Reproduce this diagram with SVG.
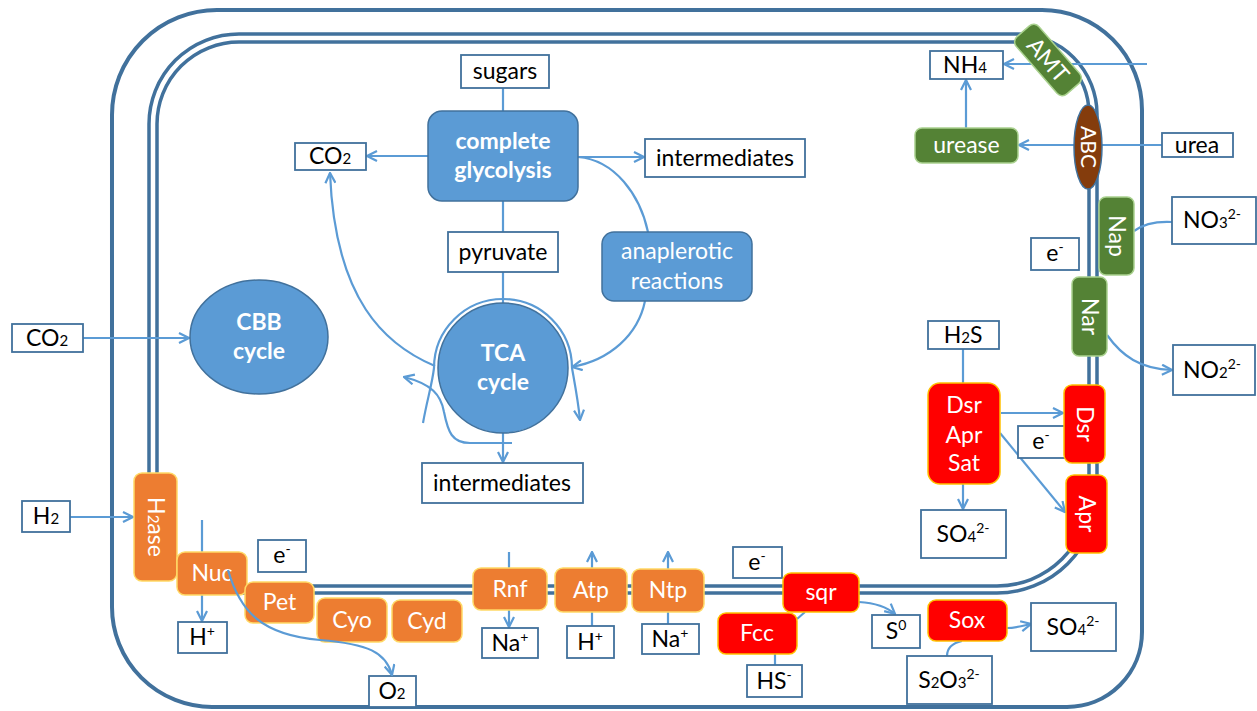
<svg xmlns="http://www.w3.org/2000/svg" width="1257" height="711" viewBox="0 0 1257 711">
<style>
.wall{fill:none;stroke:#41719C;stroke-width:4}
.mem{fill:none;stroke:#41719C;stroke-width:3.5}
.box{fill:#fff;stroke:#41719C;stroke-width:1.8}
.c{fill:none;stroke:#5B9BD5;stroke-width:2.2}
.a{marker-end:url(#ah)}
.or{fill:#ED7D31;stroke:#FFD966;stroke-width:1.5}
.rd{fill:#FF0000;stroke:#FFC000;stroke-width:1.5}
.gr{fill:#548235;stroke:#A9D18E;stroke-width:1.5}
.bl{fill:#5B9BD5;stroke:#41719C;stroke-width:1.5}
.br{fill:#843C0C;stroke:#41719C;stroke-width:1.5}
text{font-family:Lato,"Liberation Sans",sans-serif;font-size:23px;text-anchor:middle;fill:#000}
.w{fill:#fff}
.b{font-weight:bold}
.sb{font-size:15px}
.sp{font-size:14px}
</style>
<defs>
<marker id="ah" viewBox="0 0 12 12" refX="11" refY="6" markerWidth="12" markerHeight="12" markerUnits="userSpaceOnUse" orient="auto">
<path d="M1,1 L11,6 L1,11" fill="none" stroke="#5B9BD5" stroke-width="2.2" stroke-linejoin="miter"/>
</marker>
</defs>
<rect width="1257" height="711" fill="#fff"/>
<g id="cell">
<path class="wall" d="M217,10 H1042 A100,100 0 0 1 1142,110 V632 A75,75 0 0 1 1067,707 H212 A100,100 0 0 1 112,607 V115 A105,105 0 0 1 217,10 Z"/>
<path class="mem" d="M239,34 H1017 A80,80 0 0 1 1097,114 V493 A100,100 0 0 1 997,593 H239 A90,90 0 0 1 149,503 V124 A90,90 0 0 1 239,34 Z"/>
<path class="mem" d="M239,42 H1017 A72,72 0 0 1 1089,114 V494 A92,92 0 0 1 997,586 H239 A82,82 0 0 1 157,504 V124 A82,82 0 0 1 239,42 Z"/>
</g>
<g id="connectors">
<path class="c a" d="M1147,64 H1004"/>
<path class="c a" d="M966,128 V80"/>
<path class="c a" d="M1162,145 H1019"/>
<path class="c" d="M1172,222 C1152,221 1142,225 1134,231"/>
<path class="c a" d="M1107,335 C1122,356 1140,369 1172,370"/>
<path class="c" d="M963,349 V383"/>
<path class="c a" d="M1001,413 H1063"/>
<path class="c a" d="M1000,433 L1065,512"/>
<path class="c a" d="M963,484 V509"/>
<path class="c a" d="M83,338 H189"/>
<path class="c a" d="M70,517 H133"/>
<path class="c a" d="M202,520 V621"/>
<path class="c a" d="M509,552 V627"/>
<path class="c a" d="M592,626 V552"/>
<path class="c a" d="M668,624 V552"/>
<path class="c" d="M797,619 L805,612"/>
<path class="c" d="M775,665 V654"/>
<path class="c a" d="M859,602 C875,603 887,607 895,614"/>
<path class="c a" d="M1007,628 C1015,628 1022,626 1031,624"/>
<path class="c" d="M947,656 C947,648 953,643 962,641"/>
<path class="c" d="M503,88 V111"/>
<path class="c a" d="M428,156 H367"/>
<path class="c a" d="M578,157 H644"/>
<path class="c" d="M578,157 C615,160 640,195 648,232"/>
<path class="c a" d="M645,301 C638,335 610,360 572,367"/>
<path class="c" d="M503,201 V232"/>
<path class="c" d="M503,272 V303"/>
<path class="c a" d="M435,366 C385,345 335,300 330,173"/>
<path class="c a" d="M423,423 C427,400 432,385 434,368 A69,69 0 0 1 572,368 C575,385 578,400 580,420"/>
<path class="c a" d="M503,433 V462"/>
<path class="c a" d="M512,443 L470,443 C452,443 448,432 444,412 C441,395 432,384 404,377"/>
</g>
<g id="sugars"><rect class="box" x="461" y="55" width="88" height="33"/><text x="505" y="79">sugars</text></g>
<g id="glycolysis"><rect class="bl" x="428" y="111" width="150" height="90" rx="14"/><text class="w b" x="503" y="149">complete</text><text class="w b" x="503" y="178">glycolysis</text></g>
<g id="co2-top"><rect class="box" x="295" y="143" width="71" height="27"/><text x="330" y="164">CO<tspan class="sb">2</tspan></text></g>
<g id="intermediates-top"><rect class="box" x="645" y="139" width="160" height="38"/><text x="725" y="166">intermediates</text></g>
<g id="anaplerotic"><rect class="bl" x="602" y="232" width="150" height="69" rx="12"/><text class="w" x="677" y="259">anaplerotic</text><text class="w" x="677" y="289">reactions</text></g>
<g id="pyruvate"><rect class="box" x="448" y="232" width="110" height="40"/><text x="503" y="260">pyruvate</text></g>
<g id="tca"><circle class="bl" cx="503" cy="368" r="65"/><text class="w b" x="503" y="361">TCA</text><text class="w b" x="503" y="390">cycle</text></g>
<g id="intermediates-bottom"><rect class="box" x="422" y="463" width="161" height="40"/><text x="502" y="491">intermediates</text></g>
<g id="cbb"><ellipse class="bl" cx="259" cy="337" rx="69" ry="57"/><text class="w b" x="259" y="330">CBB</text><text class="w b" x="259" y="359">cycle</text></g>
<g id="co2-left"><rect class="box" x="12" y="324" width="71" height="28"/><text x="47" y="346">CO<tspan class="sb">2</tspan></text></g>
<g id="h2"><rect class="box" x="22" y="501" width="48" height="31"/><text x="46" y="524">H<tspan class="sb">2</tspan></text></g>
<g id="h2ase"><rect class="or" x="134" y="473" width="43" height="108" rx="8"/><text class="w" transform="translate(155.5,527) rotate(90)" y="8">H<tspan class="sb">2</tspan>ase</text></g>
<g id="nuc"><rect class="or" x="177" y="552" width="70" height="43" rx="8"/><text class="w" x="212" y="581">Nuc</text></g>
<g id="e-nuc"><rect class="box" x="258" y="540" width="48" height="32"/><text x="282" y="563">e<tspan class="sp" dy="-9">-</tspan></text></g>
<g id="hplus-1"><rect class="box" x="178" y="622" width="49" height="31"/><text x="202" y="645">H<tspan class="sp" dy="-9">+</tspan></text></g>
<g id="pet"><rect class="or" x="245" y="582" width="69" height="41" rx="8"/><text class="w" x="279.5" y="610">Pet</text></g>
<g id="cyo"><rect class="or" x="317" y="598" width="70" height="44" rx="8"/><text class="w" x="352" y="628">Cyo</text></g>
<g id="cyd"><rect class="or" x="392" y="600" width="70" height="42" rx="8"/><text class="w" x="427" y="629">Cyd</text></g>
<g id="o2"><rect class="box" x="369" y="676" width="47" height="31"/><text x="392" y="699">O<tspan class="sb">2</tspan></text></g>
<g id="rnf"><rect class="or" x="473" y="568" width="74" height="42" rx="8"/><text class="w" x="510" y="597">Rnf</text></g>
<g id="naplus-1"><rect class="box" x="482" y="628" width="56" height="30"/><text x="510" y="651">Na<tspan class="sp" dy="-9">+</tspan></text></g>
<g id="atp"><rect class="or" x="555" y="568" width="72" height="44" rx="8"/><text class="w" x="591" y="598">Atp</text></g>
<g id="hplus-2"><rect class="box" x="567" y="626" width="47" height="32"/><text x="590" y="650">H<tspan class="sp" dy="-9">+</tspan></text></g>
<g id="ntp"><rect class="or" x="632" y="569" width="72" height="43" rx="8"/><text class="w" x="668" y="598">Ntp</text></g>
<g id="naplus-2"><rect class="box" x="642" y="624" width="57" height="30"/><text x="670" y="647">Na<tspan class="sp" dy="-9">+</tspan></text></g>
<g id="e-sqr"><rect class="box" x="733" y="547" width="49" height="31"/><text x="757" y="570">e<tspan class="sp" dy="-9">-</tspan></text></g>
<g id="sqr"><rect class="rd" x="783" y="573" width="76" height="39" rx="8"/><text class="w" x="821" y="600">sqr</text></g>
<g id="fcc"><rect class="rd" x="718" y="613" width="79" height="41" rx="8"/><text class="w" x="757" y="641">Fcc</text></g>
<g id="hs"><rect class="box" x="747" y="665" width="55" height="32"/><text x="774" y="689">HS<tspan class="sp" dy="-9">-</tspan></text></g>
<g id="s0"><rect class="box" x="872" y="615" width="48" height="33"/><text x="896" y="639">S<tspan class="sp" dy="-9">0</tspan></text></g>
<g id="sox"><rect class="rd" x="928" y="600" width="79" height="41" rx="8"/><text class="w" x="967" y="628">Sox</text></g>
<g id="so4-right"><rect class="box" x="1031" y="603" width="85" height="48"/><text x="1073" y="635">SO<tspan class="sb">4</tspan><tspan class="sp" dy="-9">2-</tspan></text></g>
<g id="s2o3"><rect class="box" x="907" y="656" width="85" height="48"/><text x="949" y="688">S<tspan class="sb">2</tspan>O<tspan class="sb">3</tspan><tspan class="sp" dy="-9">2-</tspan></text></g>
<g id="h2s"><rect class="box" x="928" y="321" width="71" height="28"/><text x="963" y="343">H<tspan class="sb">2</tspan>S</text></g>
<g id="dsr-apr-sat"><rect class="rd" x="928" y="383" width="72" height="101" rx="12"/><text class="w" x="964" y="413">Dsr</text><text class="w" x="964" y="443">Apr</text><text class="w" x="964" y="471">Sat</text></g>
<g id="so4-lower"><rect class="box" x="921" y="510" width="85" height="48"/><text x="963" y="542">SO<tspan class="sb">4</tspan><tspan class="sp" dy="-9">2-</tspan></text></g>
<g id="e-dsr"><rect class="box" x="1018" y="426" width="47" height="32"/><text x="1041" y="449">e<tspan class="sp" dy="-9">-</tspan></text></g>
<g id="dsr"><rect class="rd" x="1064" y="385" width="41" height="78" rx="8"/><text class="w" transform="translate(1084.5,424) rotate(90)" y="8">Dsr</text></g>
<g id="apr"><rect class="rd" x="1066" y="475" width="41" height="78" rx="8"/><text class="w" transform="translate(1086.5,514) rotate(90)" y="8">Apr</text></g>
<g id="nar"><rect class="gr" x="1072" y="277" width="35" height="79" rx="7"/><text class="w" transform="translate(1089.5,316.5) rotate(90)" y="8">Nar</text></g>
<g id="nap"><rect class="gr" x="1099" y="197" width="35" height="78" rx="7"/><text class="w" transform="translate(1116.5,236) rotate(90)" y="8">Nap</text></g>
<g id="e-nap"><rect class="box" x="1031" y="238" width="48" height="32"/><text x="1055" y="261">e<tspan class="sp" dy="-9">-</tspan></text></g>
<g id="no3"><rect class="box" x="1172" y="197" width="84" height="47"/><text x="1212" y="228">NO<tspan class="sb">3</tspan><tspan class="sp" dy="-9">2-</tspan></text></g>
<g id="no2"><rect class="box" x="1173" y="345" width="82" height="50"/><text x="1212" y="378">NO<tspan class="sb">2</tspan><tspan class="sp" dy="-9">2-</tspan></text></g>
<g id="urease"><rect class="gr" x="915" y="128" width="103" height="35" rx="7"/><text class="w" x="966.5" y="153">urease</text></g>
<g id="urea"><rect class="box" x="1162" y="133" width="71" height="24"/><text x="1197" y="153">urea</text></g>
<g id="nh4"><rect class="box" x="930" y="51" width="73" height="28"/><text x="965" y="73">NH<tspan class="sb">4</tspan></text></g>
<g id="abc"><ellipse class="br" cx="1088" cy="147" rx="14" ry="42"/><text class="w" transform="translate(1088,147) rotate(90)" y="7" style="font-size:21px">ABC</text></g>
<g id="amt" transform="translate(1048,60) rotate(49)"><rect class="gr" x="-38" y="-15" width="76" height="30" rx="7"/><text class="w" y="8">AMT</text></g>
<g id="connectors-over">
<path class="c a" d="M228,570 C240,612 262,635 320,640 C368,644 386,652 392,675"/>
</g>
</svg>
